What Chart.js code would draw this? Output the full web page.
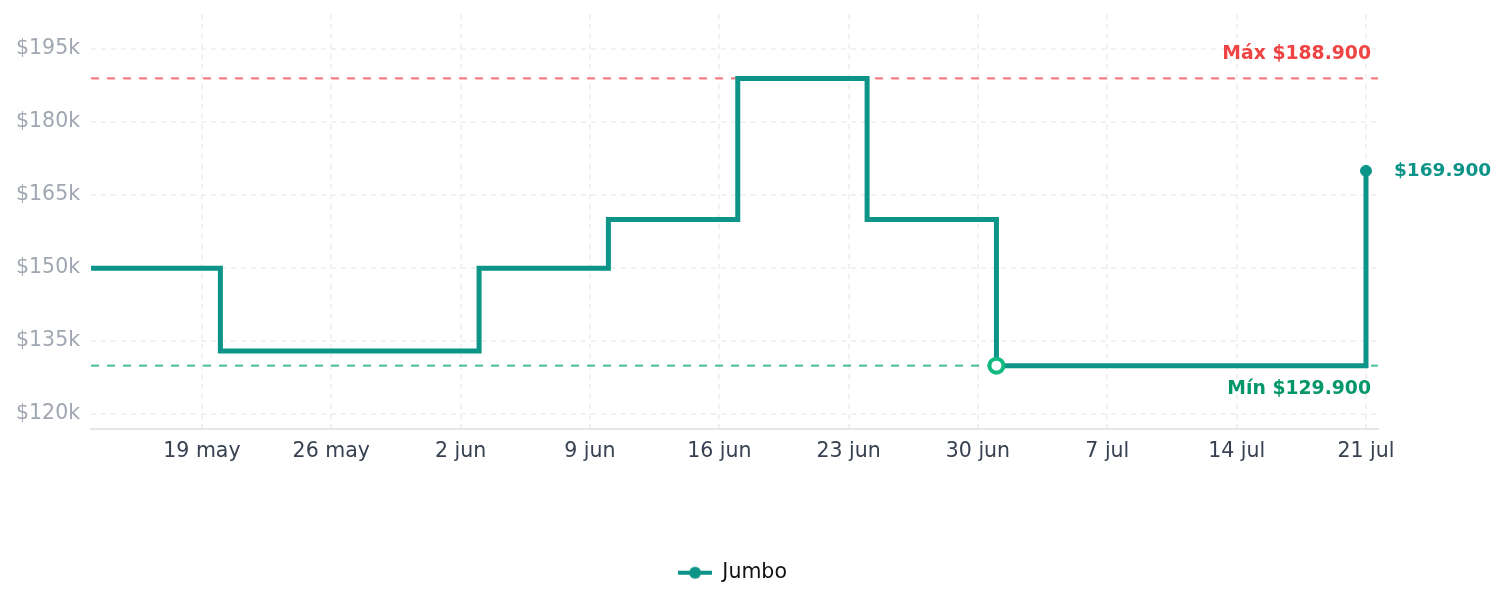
<!DOCTYPE html>
<html>
<head>
<meta charset="utf-8">
<script src="https://cdn.jsdelivr.net/npm/chart.js@4"></script>
<style>
  html, body { margin: 0; padding: 0; background: #fff; }
  #wrap { width: 1505px; height: 607px; }
</style>
</head>
<body>
<div id="wrap"><canvas id="priceChart"></canvas></div>
<script>
// datos
const fechas = ['2024-05-13', '2024-05-20', '2024-06-03', '2024-06-10', '2024-06-17', '2024-06-24', '2024-07-01', '2024-07-21'];
const precios = [149900, 132900, 149900, 159900, 188900, 159900, 129900, 169900];
const ticksY = [120000, 135000, 150000, 165000, 180000, 195000];
const ticksX = ['2024-05-19', '2024-05-26', '2024-06-02', '2024-06-09', '2024-06-16', '2024-06-23', '2024-06-30', '2024-07-07', '2024-07-14', '2024-07-21'];
const meses = ['ene', 'feb', 'mar', 'abr', 'may', 'jun', 'jul', 'ago', 'sep', 'oct', 'nov', 'dic'];

const base = Date.UTC(2024, 4, 13);
function dia(s) {
  const p = s.split('-');
  return (Date.UTC(+p[0], +p[1] - 1, +p[2]) - base) / 86400000;
}
function etiquetaDia(d) {
  const f = new Date(base + d * 86400000);
  return f.getUTCDate() + ' ' + meses[f.getUTCMonth()];
}
function pesos(v) {
  return '$' + String(v).replace(/\B(?=(\d{3})+(?!\d))/g, '.');
}

const maxP = Math.max(...precios);
const minP = Math.min(...precios);
const idxMin = precios.indexOf(minP);
const ultimo = precios.length - 1;
const teal = '#0d9488';

const puntos = fechas.map((f, i) => ({ x: dia(f), y: precios[i] }));

// icono de la leyenda: linea con punto
const icono = document.createElement('canvas');
icono.width = 34;
icono.height = 14;
const ic = icono.getContext('2d');
ic.strokeStyle = teal;
ic.lineWidth = 4;
ic.beginPath();
ic.moveTo(0, 7);
ic.lineTo(34, 7);
ic.stroke();
ic.fillStyle = teal;
ic.beginPath();
ic.arc(17, 7, 6, 0, Math.PI * 2);
ic.fill();

const lineasRef = {
  id: 'lineasRef',
  afterLayout(chart) {
    // centrar la leyenda bajo el area del grafico
    const area = chart.chartArea;
    const lg = chart.legend;
    const dx = (area.left + area.right) / 2 - (lg.left + lg.right) / 2 - 2;
    lg.left += dx;
    lg.right += dx;
  },
  beforeDatasetsDraw(chart) {
    const ctx = chart.ctx;
    const area = chart.chartArea;
    const y = chart.scales.y;
    const yMax = y.getPixelForValue(maxP);
    const yMin = y.getPixelForValue(minP);
    ctx.save();
    ctx.lineWidth = 2;
    ctx.setLineDash([8, 8]);
    ctx.strokeStyle = '#f87171';
    ctx.beginPath();
    ctx.moveTo(area.left, yMax);
    ctx.lineTo(area.right, yMax);
    ctx.stroke();
    ctx.strokeStyle = 'rgba(16,170,120,0.75)';
    ctx.beginPath();
    ctx.moveTo(area.left, yMin);
    ctx.lineTo(area.right, yMin);
    ctx.stroke();
    ctx.setLineDash([]);
    ctx.font = 'bold 18.8px "DejaVu Sans"';
    ctx.textAlign = 'right';
    ctx.textBaseline = 'middle';
    ctx.fillStyle = '#ef4444';
    ctx.fillText('Máx ' + pesos(maxP), area.right - 7, yMax - 24);
    ctx.fillStyle = '#059669';
    ctx.fillText('Mín ' + pesos(minP), area.right - 7, yMin + 23);
    ctx.restore();
  },
  afterDatasetsDraw(chart) {
    const ctx = chart.ctx;
    const p = chart.getDatasetMeta(0).data[ultimo];
    ctx.save();
    ctx.font = 'bold 18.5px "DejaVu Sans"';
    ctx.textAlign = 'left';
    ctx.textBaseline = 'middle';
    ctx.fillStyle = teal;
    ctx.fillText(pesos(precios[ultimo]), p.x + 28, p.y);
    ctx.restore();
  }
};

const radios = precios.map((v, i) => i === ultimo ? 5.5 : (i === idxMin ? 7 : 0));
const rellenos = precios.map((v, i) => i === idxMin ? '#ffffff' : teal);
const bordes = precios.map((v, i) => i === idxMin ? '#10b981' : teal);
const anchos = precios.map((v, i) => i === idxMin ? 4 : 1);

const ctx = document.getElementById('priceChart').getContext('2d');
const priceChart = new Chart(ctx, {
  type: 'line',
  data: {
    datasets: [{
      label: 'Jumbo',
      data: puntos,
      stepped: true,
      borderColor: teal,
      backgroundColor: teal,
      borderWidth: 5,
      pointRadius: radios,
      pointBackgroundColor: rellenos,
      pointBorderColor: bordes,
      pointBorderWidth: anchos,
      pointHoverRadius: 0
    }]
  },
  options: {
    responsive: true,
    maintainAspectRatio: false,
    animation: false,
    layout: { padding: { top: 14, right: 127, left: 5, bottom: 14 } },
    scales: {
      x: {
        type: 'linear',
        min: 0,
        max: 69.65,
        afterBuildTicks(scale) {
          scale.ticks = ticksX.map(t => ({ value: dia(t) }));
        },
        afterFit(scale) {
          scale.height += 79;
        },
        ticks: {
          callback: (v) => etiquetaDia(v),
          font: { family: 'DejaVu Sans', size: 20.5 },
          color: '#374151',
          padding: 10,
          maxRotation: 0,
          autoSkip: false
        },
        grid: {
          color: '#f1f1f1',
          lineWidth: 2,
          drawTicks: false
        },
        border: { color: '#e5e7eb', width: 2, dash: [5, 5] }
      },
      y: {
        min: minP * 0.9,
        max: maxP * 1.07,
        afterBuildTicks(scale) {
          scale.ticks = ticksY.map(t => ({ value: t }));
        },
        afterFit(scale) {
          scale.paddingTop = 0;
          scale.paddingBottom = 0;
        },
        ticks: {
          callback: (v) => '$' + (v / 1000) + 'k',
          font: { family: 'DejaVu Sans', size: 20.5 },
          color: '#a0a6b2',
          padding: 11
        },
        grid: {
          color: '#f1f1f1',
          lineWidth: 2,
          drawTicks: false
        },
        border: { display: false, dash: [5, 5] }
      }
    },
    plugins: {
      legend: {
        position: 'bottom',
        labels: {
          usePointStyle: true,
          pointStyle: icono,
          pointStyleWidth: 34,
          font: { family: 'DejaVu Sans', size: 20.5 },
          color: '#111111',
          padding: 10
        }
      },
      tooltip: { enabled: false }
    }
  },
  plugins: [lineasRef]
});
</script>
</body>
</html>
